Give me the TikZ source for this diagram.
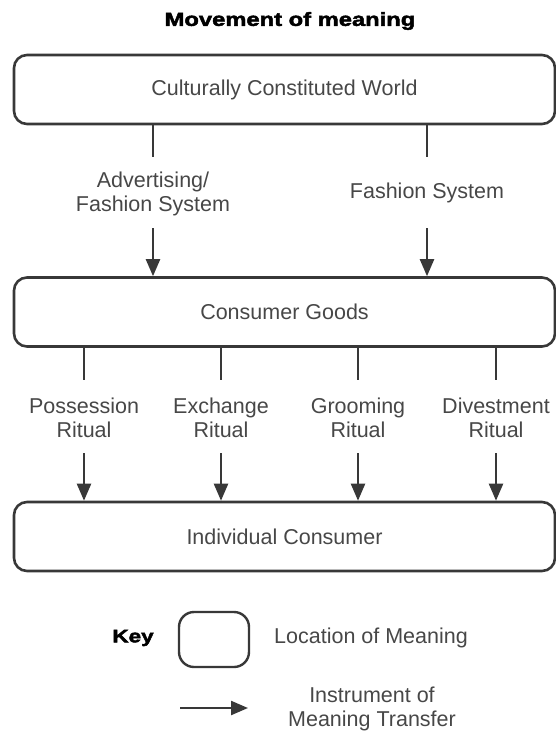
\documentclass[tikz,border=0pt]{standalone}
\usepackage{fontspec}
\setmainfont{Liberation Sans}
\newfontfamily\headfont{Liberation Sans}[FakeStretch=1.25, FakeBold=2.5]
\usetikzlibrary{arrows.meta}
\definecolor{txtgray}{HTML}{474747}
\definecolor{linegray}{HTML}{383838}
\tikzset{
  loc/.style={draw=linegray, line width=2.6pt, rounded corners=13pt, minimum width=541pt, minimum height=69pt, inner sep=0pt, text=txtgray},
  lbl/.style={align=center, text=txtgray, inner sep=0pt},
  tr/.style={draw=linegray, line width=2.3pt},
}
\begin{document}
\begin{tikzpicture}[x=1pt, y=-1pt, >={Triangle[length=17pt,width=14pt]}, font=\fontsize{21.5}{24}\selectfont]
\useasboundingbox (0,0) rectangle (556,733);
\node[font=\headfont\bfseries\fontsize{19}{22}\selectfont] (title) at (290,21) {Movement of meaning};

\node[loc] (world) at (284.5,89.5) {Culturally Constituted World};
\node[loc] (goods) at (284.5,312) {Consumer Goods};
\node[loc] (consumer) at (284.5,536.5) {Individual Consumer};

\node[lbl] (adv) at (153,194) {Advertising/\\Fashion System};
\node[lbl] (fash) at (427,193) {Fashion System};
\foreach \n/\x in {adv/153,fash/427}
{
    \coordinate (\n-a) at (\x,157);
    \coordinate (\n-b) at (\x,228);
    \draw[tr] (world.south -| \n-a)--(\n-a);
    \draw[tr,->] (\n-b)--(goods.north -| \n-b);
}

\foreach \x/\t in {84/Possession,221/Exchange,358/Grooming,496/Divestment}
{
    \node[lbl] (\t) at (\x,417.5) {\t\\Ritual};
    \coordinate (\t-a) at (\x,380);
    \coordinate (\t-b) at (\x,453);
    \draw[tr] (goods.south -| \t-a)--(\t-a);
    \draw[tr,->] (\t-b)--(consumer.north -| \t-b);
}

\node[font=\headfont\bfseries\fontsize{18}{22}\selectfont] (key) at (133,638) {Key};
\node[draw=linegray, line width=2.4pt, rounded corners=15pt, minimum width=70pt, minimum height=55pt] (keybox) at (214,639.5) {};
\node[lbl] (keyloc) at (371,638) {Location of Meaning};
\coordinate (ka) at (180,708);
\coordinate (kb) at (248,708);
\draw[tr,->] (ka)--(kb);
\node[lbl] (keyins) at (372,709) {Instrument of\\Meaning Transfer};
\end{tikzpicture}
\end{document}
